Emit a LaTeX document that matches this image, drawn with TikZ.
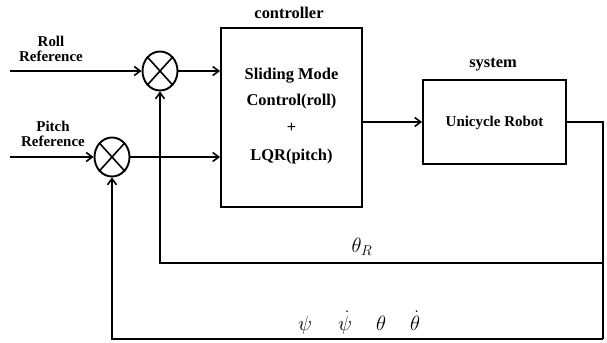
\documentclass[tikz,border=0pt]{standalone}
\usepackage{fontspec}
\setmainfont{Liberation Serif}
\usetikzlibrary{arrows.meta,shapes.geometric}
\begin{document}
\begin{tikzpicture}[x=1bp,y=-1bp,
  line width=1.9bp,
  arr/.style={-{Straight Barb[length=6bp,width=9bp,line width=1.6bp]}},
  blk/.style={draw,rectangle,inner sep=0pt},
  sumj/.style={draw,ellipse,minimum width=35bp,minimum height=39bp,inner sep=0pt},
  lbl/.style={font=\fontsize{15}{16}\selectfont\bfseries,inner sep=0pt,align=center},
  big/.style={font=\fontsize{16.5}{17}\selectfont\bfseries,inner sep=0pt},
  mth/.style={font=\fontsize{21}{22}\selectfont,inner sep=0pt,anchor=base}]
\useasboundingbox (0,0) rectangle (607,342);
% blocks
\node[blk,minimum width=141bp,minimum height=179bp] (ctrl) at (291.5,117.5) {};
\node[blk,minimum width=143bp,minimum height=84bp] (sys) at (494.5,122) {};
% summing junctions
\node[sumj] (roll) at (160,71) {};
\node[sumj] (pitch) at (112,157) {};
\draw[line width=1.6bp] (roll.north west) -- (roll.south east) (roll.north east) -- (roll.south west);
\draw[line width=1.6bp] (pitch.north west) -- (pitch.south east) (pitch.north east) -- (pitch.south west);
% labels
\node[lbl] (lroll) at (51,49) {Roll\\[-1bp]Reference};
\node[lbl] (lpitch) at (53,134) {Pitch\\[-1bp]Reference};
\node[big,anchor=base] (lctrl) at (289,18) {controller};
\node[big,anchor=base] (lsys) at (493,67) {system};
\node[big] (t1) at (291.5,76) {Sliding Mode};
\node[big] (t2) at (291.5,101.5) {Control(roll)};
\node[big] (t3) at (291.5,128) {+};
\node[big] (t4) at (291.5,157) {LQR(pitch)};
\node[lbl] (t5) at (494.5,123) {Unicycle Robot};
\node[mth] (thR) at (362,252) {$\theta_R$};
\node[mth] (s1) at (305,330) {$\psi$};
\node[mth] (s2) at (345,330) {$\dot\psi$};
\node[mth] (s3) at (381,330) {$\theta$};
\node[mth] (s4) at (415,330) {$\dot\theta$};
% coordinates
\coordinate (rin) at (10,71);
\coordinate (pin) at (10,157);
\coordinate (c1) at (603,122);
\coordinate (c2) at (603,263);
\coordinate (c3) at (603,339);
\coordinate (c4) at (112,339);
\coordinate (c5) at (160,263);
% connectors
\draw[arr] (rin) -- (roll.west);
\draw[arr] (pin) -- (pitch.west);
\draw[arr] (roll.east) -- (ctrl.west |- roll.east);
\draw[arr] (pitch.east) -- (ctrl.west |- pitch.east);
\draw[arr] (ctrl.east |- sys.west) -- (sys.west);
\draw (sys.east) -- (c1) -- (c3);
\draw[arr] (c3) -- (c4) -- (pitch.south);
\draw[arr] (c2) -- (c5) -- (roll.south);
\end{tikzpicture}
\end{document}
